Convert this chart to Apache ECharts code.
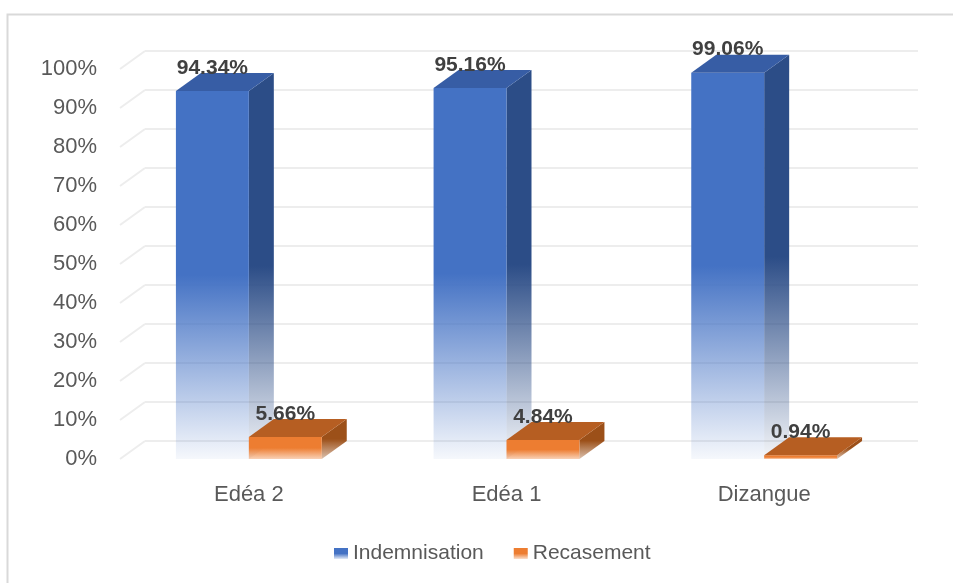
<!DOCTYPE html>
<html>
<head>
<meta charset="utf-8">
<title>Indemnisation / Recasement</title>
<script src="https://cdn.jsdelivr.net/npm/echarts@6/dist/echarts.min.js"></script>
<style>
  html, body { margin: 0; padding: 0; background: #ffffff; }
  #chart { width: 953px; height: 583px; }
</style>
</head>
<body>
<div id="chart"></div>
<script>
// Sites and shares (percent) per type of compensation
const categories = ['Edéa 2', 'Edéa 1', 'Dizangue'];
const indemnisation = [94.34, 95.16, 99.06];
const recasement = [5.66, 4.84, 0.94];
const yTicks = [0, 10, 20, 30, 40, 50, 60, 70, 80, 90, 100];

// Depth of the pseudo-3D plot (pixels)
const DX = 25, DY = -18;
const FONT = "'Liberation Sans', Arial, sans-serif";
const GRID_COLOR = '#ededed';

const palettes = {
  Indemnisation: { front: '#4472C4', side: '#2C4D87', top: '#375DA5', fade: 'rgba(68,114,196,0.05)', sideFade: 'rgba(44,77,135,0.05)', left: true },
  Recasement:    { front: '#ED7D31', side: '#9C5019', top: '#B65E22', fade: 'rgba(237,125,49,0.35)', sideFade: 'rgba(156,80,25,0.35)', left: false }
};

function vGrad(c1, c2) {
  return new echarts.graphic.LinearGradient(0, 0, 0, 1, [
    { offset: 0, color: c1 },
    { offset: 0.5, color: c1 },
    { offset: 1, color: c2 }
  ]);
}

function barRenderer(name) {
  const p = palettes[name];
  return function (params, api) {
    const cat = api.value(0);
    const val = api.value(1);
    const top = api.coord([cat, val]);
    const base = api.coord([cat, 0]);
    const band = api.size([1, 0])[0];
    const w = band * 0.283;
    const x0 = p.left ? top[0] - w : top[0];
    const yt = top[1], yb = base[1];
    return {
      type: 'group',
      children: [
        {
          type: 'polygon',
          shape: { points: [[x0 + w, yt], [x0 + w + DX, yt + DY], [x0 + w + DX, yb + DY], [x0 + w, yb]] },
          style: { fill: vGrad(p.side, p.sideFade) }
        },
        {
          type: 'rect',
          shape: { x: x0, y: yt, width: w, height: yb - yt },
          style: { fill: vGrad(p.front, p.fade) }
        },
        {
          type: 'polygon',
          shape: { points: [[x0, yt], [x0 + DX, yt + DY], [x0 + w + DX, yt + DY], [x0 + w, yt]] },
          style: { fill: p.top }
        },
        {
          type: 'text',
          x: x0 + w / 2,
          y: yt - 23,
          style: {
            text: val.toFixed(2) + '%',
            fontFamily: FONT,
            fontSize: 21,
            fontWeight: 'bold',
            fill: '#404040',
            align: 'center',
            verticalAlign: 'middle'
          }
        }
      ]
    };
  };
}

const chart = echarts.init(document.getElementById('chart'), null, { renderer: 'canvas' });

chart.setOption({
  animation: false,
  backgroundColor: '#ffffff',
  graphic: [
    {
      type: 'rect',
      shape: { x: 7.5, y: 14.5, width: 980, height: 600 },
      style: { fill: 'none', stroke: '#d9d9d9', lineWidth: 2 },
      silent: true
    }
  ],
  grid: [
    { left: 120, top: 69, width: 773, height: 390 },
    { left: 120 + DX, top: 69 + DY, width: 773, height: 390 }
  ],
  xAxis: [
    {
      type: 'category', gridIndex: 0, data: categories,
      axisLine: { show: false }, axisTick: { show: false },
      axisLabel: { fontFamily: FONT, fontSize: 22, color: '#595959', margin: 25 }
    },
    { type: 'category', gridIndex: 1, data: categories, show: false }
  ],
  yAxis: [
    {
      type: 'value', gridIndex: 0, min: 0, max: 100, interval: 10,
      axisLine: { show: false }, axisTick: { show: false }, splitLine: { show: false },
      axisLabel: { fontFamily: FONT, fontSize: 22, color: '#595959', margin: 23, formatter: '{value}%' }
    },
    {
      type: 'value', gridIndex: 1, min: 0, max: 100, interval: 10,
      axisLine: { show: false }, axisTick: { show: false }, axisLabel: { show: false },
      splitLine: { lineStyle: { color: GRID_COLOR, width: 2 } }
    }
  ],
  legend: {
    left: 329, top: 538,
    itemWidth: 14, itemHeight: 11, itemGap: 30,
    icon: 'rect',
    textStyle: { fontFamily: FONT, fontSize: 21, color: '#595959' },
    data: ['Indemnisation', 'Recasement']
  },
  series: [
    {
      // slanted part of each gridline, from the front edge to the back wall
      type: 'custom', name: 'gridDepth', xAxisIndex: 0, yAxisIndex: 0, silent: true,
      data: yTicks.map(v => [0, v]),
      renderItem: function (params, api) {
        const y = api.coord([0, api.value(1)])[1];
        const x = params.coordSys.x;
        return {
          type: 'line',
          shape: { x1: x, y1: y, x2: x + DX, y2: y + DY },
          style: { stroke: GRID_COLOR, lineWidth: 2 }
        };
      },
      z: 1
    },
    {
      type: 'custom', name: 'Indemnisation', xAxisIndex: 0, yAxisIndex: 0,
      data: indemnisation.map((v, i) => [i, v]),
      itemStyle: { color: vGrad('#4472C4', 'rgba(68,114,196,0.15)') },
      renderItem: barRenderer('Indemnisation'),
      z: 2
    },
    {
      type: 'custom', name: 'Recasement', xAxisIndex: 0, yAxisIndex: 0,
      data: recasement.map((v, i) => [i, v]),
      itemStyle: { color: vGrad('#ED7D31', 'rgba(237,125,49,0.25)') },
      renderItem: barRenderer('Recasement'),
      z: 3
    }
  ]
});
</script>
</body>
</html>
